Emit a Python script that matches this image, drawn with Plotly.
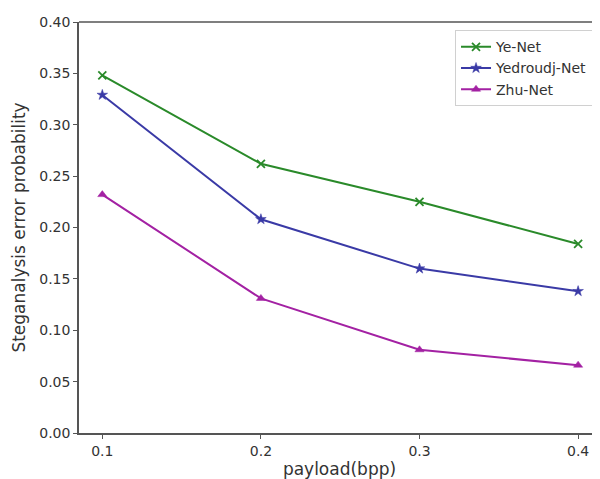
import plotly.graph_objects as go

payload = [0.1, 0.2, 0.3, 0.4]
ye_net = [0.348, 0.262, 0.225, 0.184]
yedroudj_net = [0.329, 0.208, 0.160, 0.138]
zhu_net = [0.232, 0.131, 0.081, 0.066]
y_ticks = [0.00, 0.05, 0.10, 0.15, 0.20, 0.25, 0.30, 0.35, 0.40]

series = [
    ("Ye-Net", ye_net, "#2a8a2a", "x-thin", 8, 1.8),
    ("Yedroudj-Net", yedroudj_net, "#3a3aa6", "star", 8, 0.5),
    ("Zhu-Net", zhu_net, "#a321a3", "triangle-up", 8, 0.5),
]

fig = go.Figure()
for name, vals, color, sym, size, lw in series:
    fig.add_trace(go.Scatter(
        x=payload, y=vals, mode="lines+markers", name=name,
        line=dict(color=color, width=2),
        marker=dict(symbol=sym, size=size, color=color,
                    line=dict(color=color, width=lw)),
    ))

# page body has an 8px default margin, so the figure is sized 8px smaller
fig.update_layout(
    width=592, height=471,
    margin=dict(l=71, r=0, t=14, b=46),
    plot_bgcolor="white", paper_bgcolor="white",
    font=dict(family="DejaVu Sans", size=14, color="#333333"),
    showlegend=True,
    legend=dict(
        x=0.9866, y=0.98, xanchor="right", yanchor="top",
        bordercolor="#d0d0d0", borderwidth=1, bgcolor="white",
        font=dict(size=14, color="#333333"),
        tracegroupgap=0, itemwidth=30,
    ),
    xaxis=dict(
        range=[0.0853, 0.4138], tickvals=payload,
        ticktext=[str(v) for v in payload],
        showgrid=False, zeroline=False,
        showline=True, linecolor="#555555", linewidth=1.5,
        ticks="outside", ticklen=4, tickcolor="#555555",
        title=dict(text="payload(bpp)", standoff=8),
    ),
    yaxis=dict(
        range=[0, 0.40], tickvals=y_ticks,
        ticktext=[f"{v:.2f}" for v in y_ticks],
        showgrid=False, zeroline=False,
        showline=True, linecolor="#555555", linewidth=1.5,
        ticks="outside", ticklen=4, tickcolor="#555555",
        title=dict(text="Steganalysis error probability", standoff=9),
    ),
    shapes=[dict(type="line", xref="paper", yref="paper",
                 x0=0, x1=1, y0=1, y1=1,
                 line=dict(color="#555555", width=1.5))],
)

fig.write_html("out.html")
